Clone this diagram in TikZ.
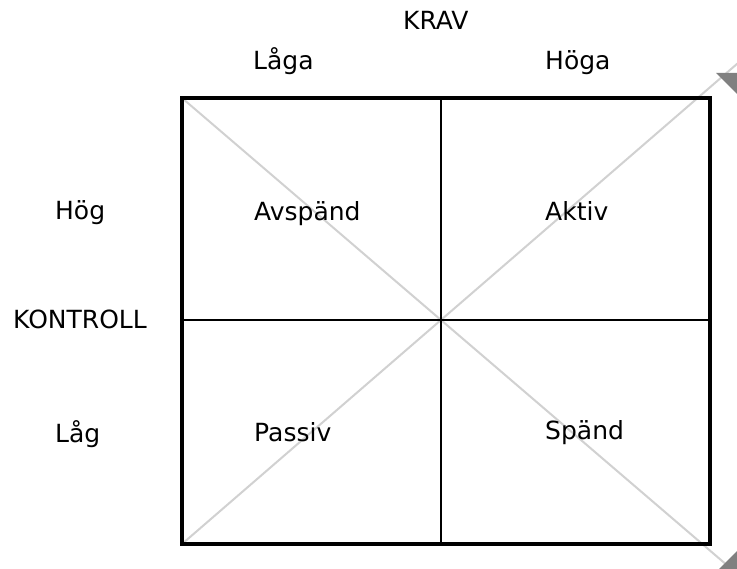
\documentclass[tikz,border=0pt]{standalone}
\usepackage{fontspec}
\setmainfont{DejaVu Sans}
\begin{document}
\begin{tikzpicture}[x=1pt,y=-1pt,
  lbl/.style={anchor=base west,inner sep=0pt,font=\fontsize{25}{29}\selectfont},
  frame/.style={draw=black,line width=3.8pt},
  divider/.style={draw=black,line width=1.9pt},
  diag/.style={draw=black!18,line width=2pt},
  tip/.style={fill=black!50,draw=none}]
\useasboundingbox (0,0) rectangle (737,569);
\clip (0,0) rectangle (737,569);
\fill[white] (0,0) rectangle (737,569);

% corners of the matrix and the crossing point
\coordinate (tl) at (182,98);
\coordinate (tr) at (710,98);
\coordinate (bl) at (182,544);
\coordinate (br) at (710,544);
\coordinate (c)  at (441,320);
\coordinate (tmid) at (441,98);
\coordinate (bmid) at (441,544);
\coordinate (lmid) at (182,320);
\coordinate (rmid) at (710,320);
\coordinate (endA) at (745,580.6);
\coordinate (endB) at (745,57);

% diagonals running out to the arrow tips
\draw[diag] (tl) -- (endA);
\draw[diag] (bl) -- (endB);
\fill[tip] (716,73) -- (745,73) -- (745,102) -- cycle;
\fill[tip] (716,572) -- (745,543) -- (745,572) -- cycle;

% quadrant dividers and frame
\draw[divider] (tmid) -- (bmid);
\draw[divider] (lmid) -- (rmid);
\draw[frame] (tl) rectangle (br);

% axis labels
\node[lbl] (krav) at (403,30) {KRAV};
\node[lbl] (laga) at (253,70) {Låga};
\node[lbl] (hoga) at (545,70) {Höga};
\node[lbl] (hog) at (55,220) {Hög};
\node[lbl] (kontroll) at (13,329) {KONTROLL};
\node[lbl] (lag) at (55,443) {Låg};

% quadrant labels
\node[lbl] (avspand) at (254,221) {Avspänd};
\node[lbl] (aktiv) at (545,221) {Aktiv};
\node[lbl] (passiv) at (254,442) {Passiv};
\node[lbl] (spand) at (545,440) {Spänd};
\end{tikzpicture}
\end{document}
